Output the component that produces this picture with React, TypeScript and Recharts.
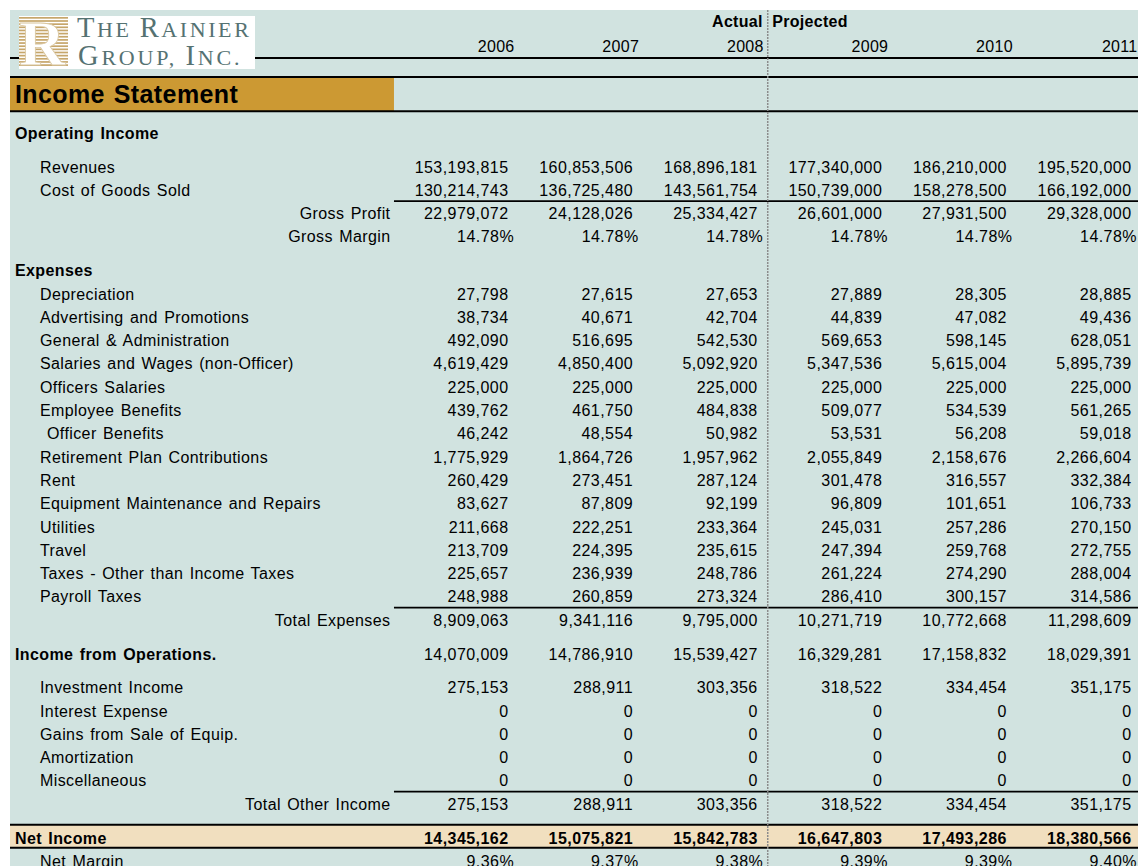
import React from 'react';
import { ScatterChart, Scatter, XAxis, YAxis, ReferenceLine, ReferenceArea } from 'recharts';

// ---------- data ----------
const years = ['2006', '2007', '2008', '2009', '2010', '2011'];
const periodLabels = ['Actual', 'Projected'];
const titleText = 'Income Statement';

const revenues = [153193815, 160853506, 168896181, 177340000, 186210000, 195520000];
const costOfGoodsSold = [130214743, 136725480, 143561754, 150739000, 158278500, 166192000];
const grossProfit = [22979072, 24128026, 25334427, 26601000, 27931500, 29328000];
const grossMargin = [14.78, 14.78, 14.78, 14.78, 14.78, 14.78];
const depreciation = [27798, 27615, 27653, 27889, 28305, 28885];
const advertising = [38734, 40671, 42704, 44839, 47082, 49436];
const generalAdmin = [492090, 516695, 542530, 569653, 598145, 628051];
const salariesWages = [4619429, 4850400, 5092920, 5347536, 5615004, 5895739];
const officersSalaries = [225000, 225000, 225000, 225000, 225000, 225000];
const employeeBenefits = [439762, 461750, 484838, 509077, 534539, 561265];
const officerBenefits = [46242, 48554, 50982, 53531, 56208, 59018];
const retirementPlan = [1775929, 1864726, 1957962, 2055849, 2158676, 2266604];
const rent = [260429, 273451, 287124, 301478, 316557, 332384];
const equipmentMaint = [83627, 87809, 92199, 96809, 101651, 106733];
const utilities = [211668, 222251, 233364, 245031, 257286, 270150];
const travel = [213709, 224395, 235615, 247394, 259768, 272755];
const otherTaxes = [225657, 236939, 248786, 261224, 274290, 288004];
const payrollTaxes = [248988, 260859, 273324, 286410, 300157, 314586];
const totalExpenses = [8909063, 9341116, 9795000, 10271719, 10772668, 11298609];
const incomeFromOperations = [14070009, 14786910, 15539427, 16329281, 17158832, 18029391];
const investmentIncome = [275153, 288911, 303356, 318522, 334454, 351175];
const interestExpense = [0, 0, 0, 0, 0, 0];
const gainsFromSale = [0, 0, 0, 0, 0, 0];
const amortization = [0, 0, 0, 0, 0, 0];
const miscellaneous = [0, 0, 0, 0, 0, 0];
const totalOtherIncome = [275153, 288911, 303356, 318522, 334454, 351175];
const netIncome = [14345162, 15075821, 15842783, 16647803, 17493286, 18380566];
const netMargin = [9.36, 9.37, 9.38, 9.39, 9.39, 9.40];

type Kind = 'section' | 'item' | 'sub' | 'total' | 'net';
type Row = { label: string; kind: Kind; values?: number[]; pct?: boolean; gap?: boolean; rule?: boolean };

const rows: Row[] = [
  { label: 'Operating Income', kind: 'section' },
  { label: 'Revenues', kind: 'item', values: revenues, gap: true },
  { label: 'Cost of Goods Sold', kind: 'item', values: costOfGoodsSold, rule: true },
  { label: 'Gross Profit', kind: 'total', values: grossProfit },
  { label: 'Gross Margin', kind: 'total', values: grossMargin, pct: true },
  { label: 'Expenses', kind: 'section', gap: true },
  { label: 'Depreciation', kind: 'item', values: depreciation },
  { label: 'Advertising and Promotions', kind: 'item', values: advertising },
  { label: 'General & Administration', kind: 'item', values: generalAdmin },
  { label: 'Salaries and Wages (non-Officer)', kind: 'item', values: salariesWages },
  { label: 'Officers Salaries', kind: 'item', values: officersSalaries },
  { label: 'Employee Benefits', kind: 'item', values: employeeBenefits },
  { label: 'Officer Benefits', kind: 'sub', values: officerBenefits },
  { label: 'Retirement Plan Contributions', kind: 'item', values: retirementPlan },
  { label: 'Rent', kind: 'item', values: rent },
  { label: 'Equipment Maintenance and Repairs', kind: 'item', values: equipmentMaint },
  { label: 'Utilities', kind: 'item', values: utilities },
  { label: 'Travel', kind: 'item', values: travel },
  { label: 'Taxes - Other than Income Taxes', kind: 'item', values: otherTaxes },
  { label: 'Payroll Taxes', kind: 'item', values: payrollTaxes, rule: true },
  { label: 'Total Expenses', kind: 'total', values: totalExpenses },
  { label: 'Income from Operations.', kind: 'section', values: incomeFromOperations, gap: true },
  { label: 'Investment Income', kind: 'item', values: investmentIncome, gap: true },
  { label: 'Interest Expense', kind: 'item', values: interestExpense },
  { label: 'Gains from Sale of Equip.', kind: 'item', values: gainsFromSale },
  { label: 'Amortization', kind: 'item', values: amortization },
  { label: 'Miscellaneous', kind: 'item', values: miscellaneous, rule: true },
  { label: 'Total Other Income', kind: 'total', values: totalOtherIncome },
  { label: 'Net Income', kind: 'net', values: netIncome, gap: true },
  { label: 'Net Margin', kind: 'item', values: netMargin, pct: true },
];

// ---------- layout constants (axis units: x = columns, y = rows) ----------
const LABEL_W = 3.07;
const X_MAX = LABEL_W + years.length;
const Y_MIN = -5.71;
const Y_MAX = 31.46;
const GAP = 0.45;
const H = { group: -4.8, year: -3.73, topRule: -3.22, bandTop: -2.4, bandBottom: -0.94, title: -1.68, tealTop: -5.28 };
const FONT = '"Liberation Sans", Arial, sans-serif';
const TEAL = '#D1E3E0';

const rowY: number[] = [];
rows.forEach((r, i) => {
  const prev = i === 0 ? -1 : rowY[i - 1];
  rowY.push(prev + 1 + (i > 0 && r.gap ? GAP : 0));
});

const fmt = (v: number, pct?: boolean) => (pct ? v.toFixed(2) + '%' : v.toLocaleString('en-US'));

type Pt = { x: number; y: number; text: string; anchor: string; dx: number; size: number; bold: boolean; ls: number };

const labelPoints: Pt[] = rows.map((r, i) => {
  if (r.kind === 'total') return { x: LABEL_W, y: rowY[i], text: r.label, anchor: 'end', dx: -2, size: 16, bold: false, ls: 0.4 };
  const dx = r.kind === 'section' || r.kind === 'net' ? 5 : r.kind === 'sub' ? 37 : 30;
  return { x: 0, y: rowY[i], text: r.label, anchor: 'start', dx, size: 16, bold: r.kind === 'section' || r.kind === 'net', ls: 0.4 };
});
labelPoints.push({ x: 0, y: H.title, text: titleText, anchor: 'start', dx: 5, size: 25, bold: true, ls: 0.4 });

const headerPoints: Pt[] = [
  ...years.map((yr, j) => ({ x: LABEL_W + j + 1, y: H.year, text: yr, anchor: 'end', dx: -2.5, size: 16, bold: false, ls: 0.3 })),
  { x: LABEL_W + 3, y: H.group, text: periodLabels[0], anchor: 'end', dx: -3.5, size: 16, bold: true, ls: 0.3 },
  { x: LABEL_W + 3, y: H.group, text: periodLabels[1], anchor: 'start', dx: 6, size: 16, bold: true, ls: 0.3 },
];

const columnPoints: Pt[][] = years.map((_, j) =>
  rows
    .map((r, i) => ({ r, i }))
    .filter(({ r }) => r.values)
    .map(({ r, i }) => ({
      x: LABEL_W + j + 1,
      y: rowY[i],
      text: fmt(r.values![j], r.pct),
      anchor: 'end',
      dx: r.pct ? -3 : -8.5,
      size: 16,
      bold: r.kind === 'net',
      ls: 0.45,
    }))
);

const CellText = (p: any) => {
  const d = p.payload as Pt;
  if (!d || p.cx == null || p.cy == null) return null;
  return (
    <text
      x={p.cx + d.dx}
      y={p.cy}
      dy="0.36em"
      textAnchor={d.anchor as any}
      fontFamily={FONT}
      fontSize={d.size}
      fontWeight={d.bold ? 700 : 400}
      fill="#000"
      style={{ letterSpacing: d.ls + 'px', wordSpacing: '1.5px' }}
    >
      {d.text}
    </text>
  );
};

const Logo = () => {
  const stripes = [];
  for (let k = 0; k < 16; k++) {
    stripes.push(<rect key={k} x={0} y={1 + k * 3.15} width={49} height={1.7} fill="#C6A66B" />);
  }
  return (
    <svg width={236} height={53} style={{ display: 'block' }}>
      <rect x={0} y={0} width={236} height={53} fill="#fff" />
      {stripes}
      <text x={23} y={49} textAnchor="middle" fontFamily='"Liberation Serif", serif' fontWeight={700} fontSize={64} fill="#fff" stroke="#D9C69F" strokeWidth={0.8}>
        R
      </text>
      <text x={58} y={21} fontFamily='"Liberation Serif", serif' fill="#557272" style={{ letterSpacing: '2.6px' }}>
        <tspan fontSize={28.5}>T</tspan>
        <tspan fontSize={22}>HE </tspan>
        <tspan fontSize={28.5}>R</tspan>
        <tspan fontSize={22}>AINIER</tspan>
      </text>
      <text x={59} y={49} fontFamily='"Liberation Serif", serif' fill="#557272" style={{ letterSpacing: '2.8px' }}>
        <tspan fontSize={28.5}>G</tspan>
        <tspan fontSize={22}>ROUP, </tspan>
        <tspan fontSize={28.5}>I</tspan>
        <tspan fontSize={22}>NC.</tspan>
      </text>
    </svg>
  );
};

export default function App() {
  const netIdx = rows.findIndex((r) => r.kind === 'net');
  return (
    <div style={{ position: 'absolute', left: 0, top: 0, width: 1138, height: 866, overflow: 'hidden', background: '#fff' }}>
      <div style={{ position: 'absolute', left: 10, top: 10, right: 0, bottom: 0, background: TEAL }} />
      <div style={{ position: 'absolute', left: 0, top: 0 }}>
        <ScatterChart width={1140} height={866} margin={{ top: 0, right: 0, bottom: 0, left: 10 }}>
          <XAxis type="number" dataKey="x" domain={[0, X_MAX]} allowDataOverflow hide />
          <YAxis type="number" dataKey="y" domain={[Y_MIN, Y_MAX]} allowDataOverflow reversed hide />
          <ReferenceArea x1={0} x2={LABEL_W + 0.012} y1={H.bandTop} y2={H.bandBottom} fill="#CC9933" fillOpacity={1} stroke="none" />
          <ReferenceArea x1={0} x2={X_MAX} y1={rowY[netIdx] - 0.56} y2={rowY[netIdx] + 0.43} fill="#F1DFBF" fillOpacity={1} stroke="none" />
          <ReferenceLine y={H.topRule} stroke="#000" strokeWidth={2} />
          <ReferenceLine y={H.bandTop} stroke="#000" strokeWidth={2} />
          <ReferenceLine y={H.bandBottom} stroke="#000" strokeWidth={2} />
          <ReferenceLine y={rowY[netIdx] - 0.56} stroke="#000" strokeWidth={2} />
          <ReferenceLine y={rowY[netIdx] + 0.43} stroke="#000" strokeWidth={2} />
          {rows.map((r, i) =>
            r.rule ? (
              <ReferenceLine
                key={'rule' + i}
                segment={[
                  { x: LABEL_W + 0.012, y: rowY[i] + 0.47 },
                  { x: X_MAX, y: rowY[i] + 0.47 },
                ]}
                stroke="#000"
                strokeWidth={1.8}
              />
            ) : null
          )}
          <ReferenceLine
            segment={[
              { x: LABEL_W + 3.012, y: H.tealTop },
              { x: LABEL_W + 3.012, y: Y_MAX },
            ]}
            stroke="#8C8C8C"
            strokeWidth={1.5}
            strokeDasharray="2 1"
          />
          <Scatter data={labelPoints} shape={CellText} isAnimationActive={false} />
          <Scatter data={headerPoints} shape={CellText} isAnimationActive={false} />
          {columnPoints.map((pts, j) => (
            <Scatter key={years[j]} data={pts} shape={CellText} isAnimationActive={false} />
          ))}
        </ScatterChart>
      </div>
      <div style={{ position: 'absolute', left: 19, top: 16 }}>
        <Logo />
      </div>
    </div>
  );
}
